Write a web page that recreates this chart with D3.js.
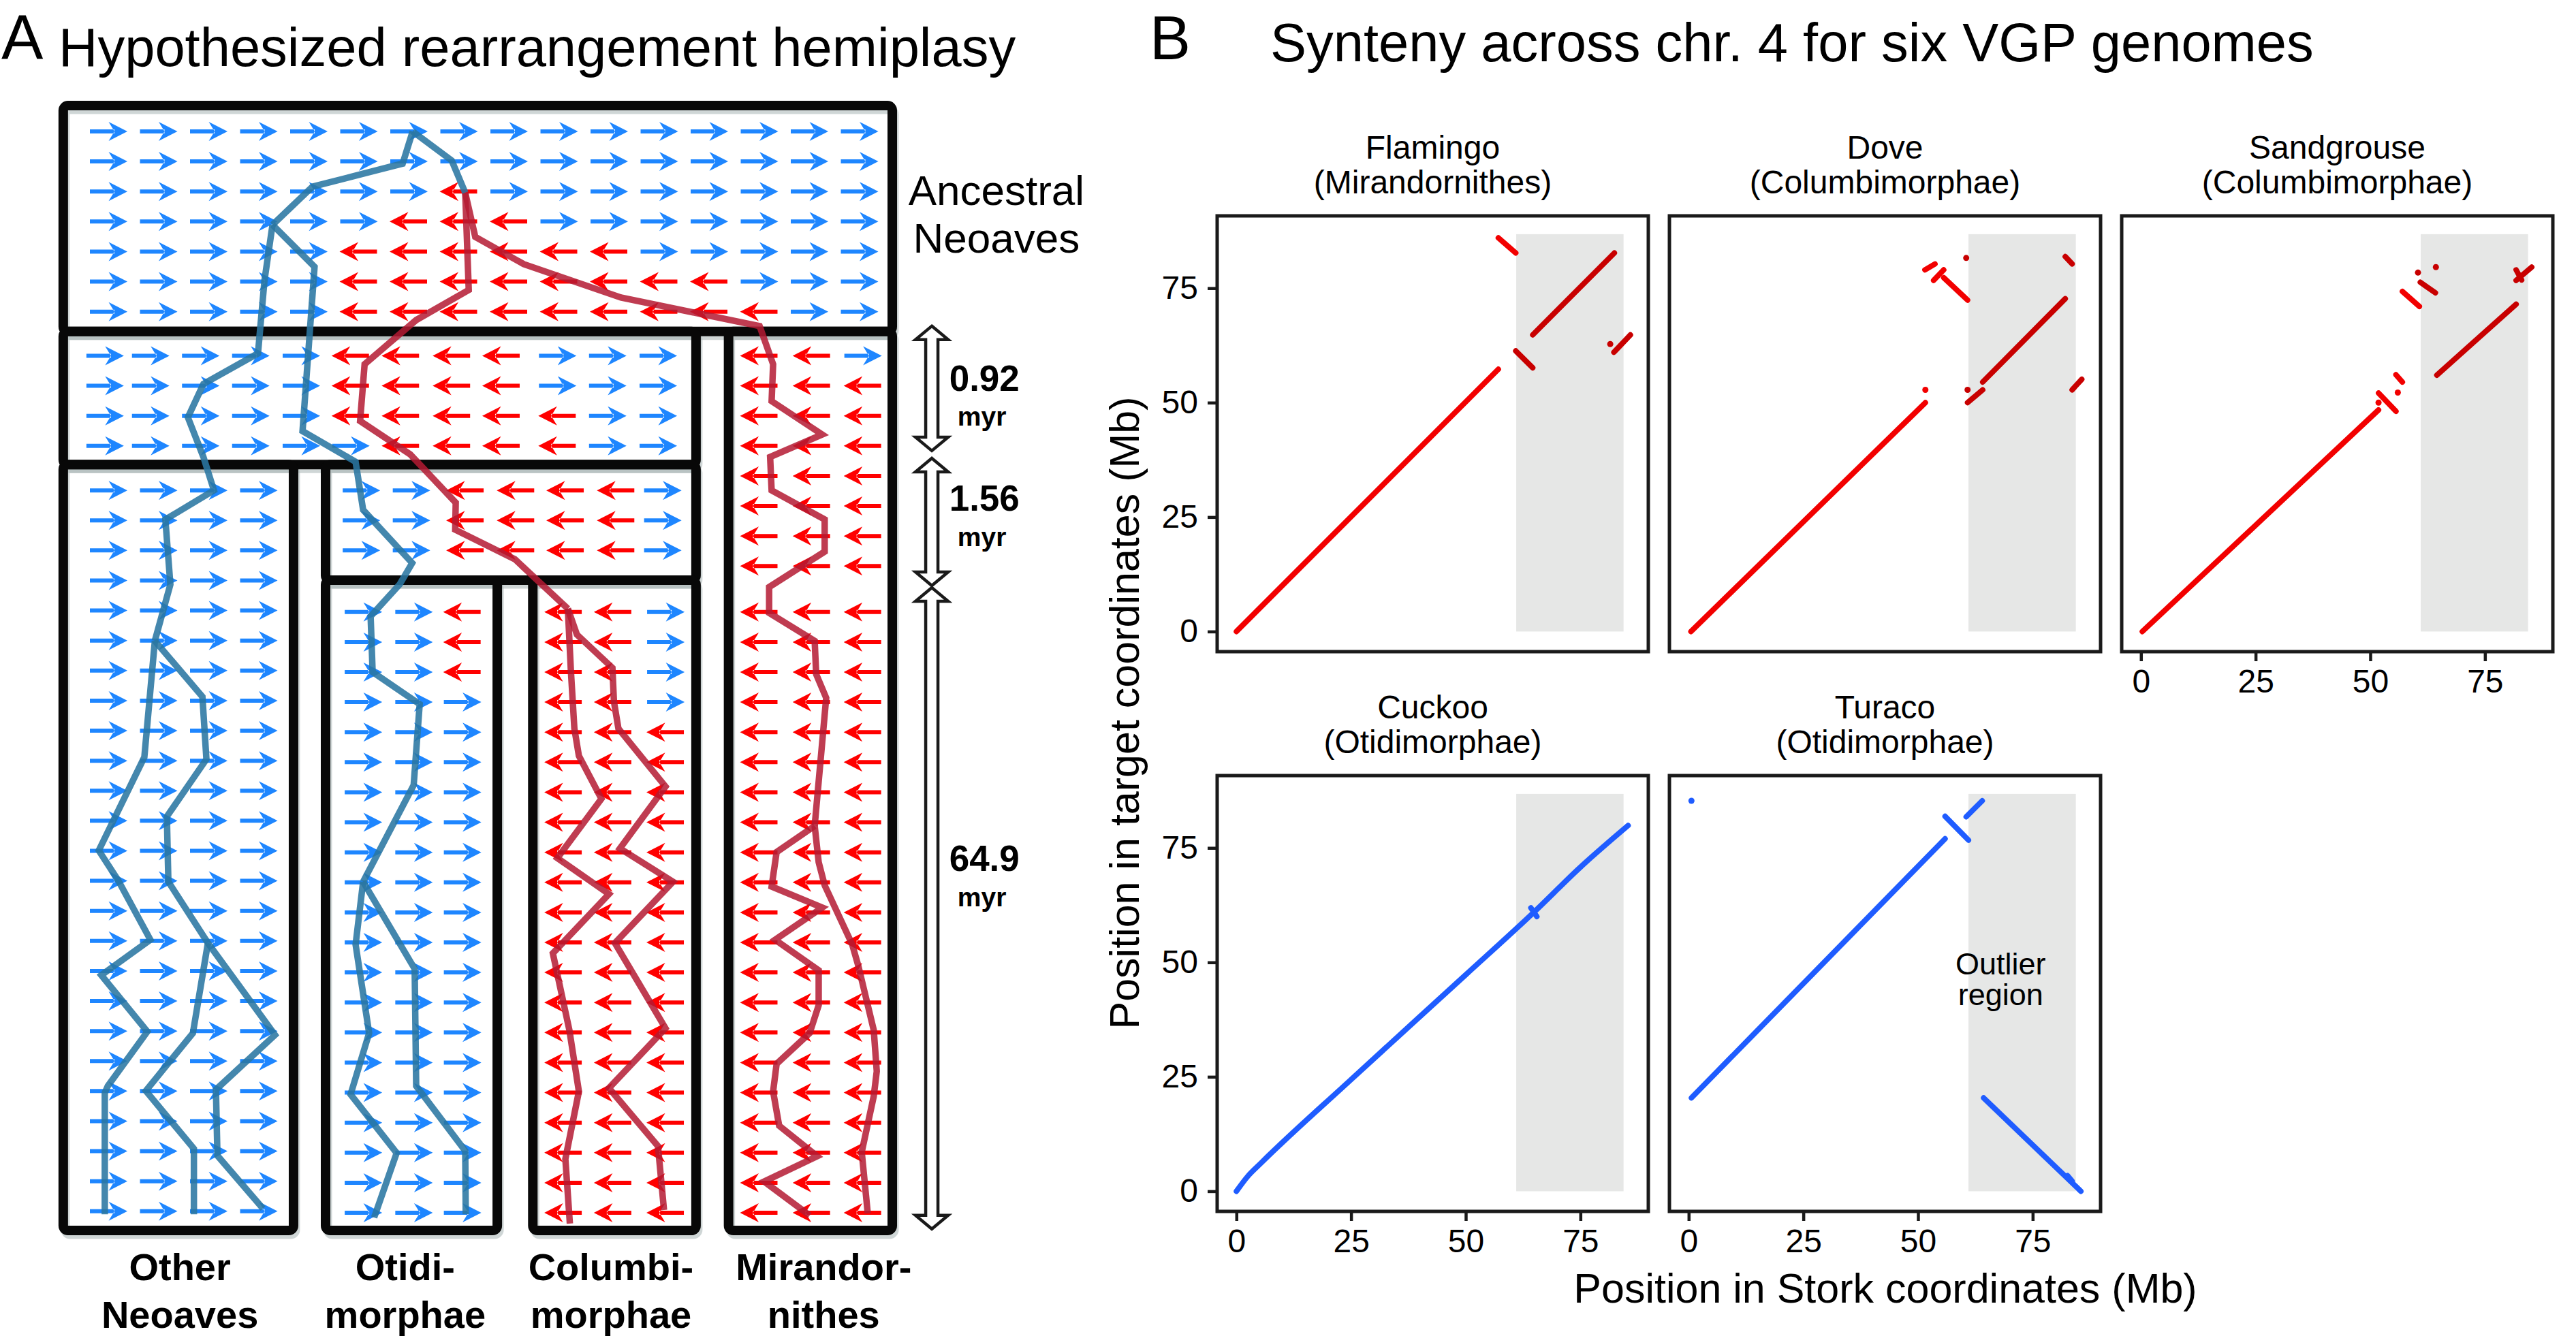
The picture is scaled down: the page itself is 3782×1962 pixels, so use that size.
<!DOCTYPE html>
<html><head><meta charset="utf-8">
<script src="https://cdn.jsdelivr.net/npm/d3@7"></script>
<style>
html,body{margin:0;padding:0;background:#fff;}
svg{display:block;}
text{font-family:"Liberation Sans", Arial, Helvetica, sans-serif;fill:#000;}
</style></head><body>
<svg id="chart" width="3782" height="1962"></svg>
<script>
// ===================== PANEL A DATA =====================
// R = ancestral orientation (blue, right), L = rearranged (red, left)
const ancestralPattern = [
  "RRRRRRRRRRRRRRRR",
  "RRRRRRRRRRRRRRRR",
  "RRRRRRRLRRRRRRRR",
  "RRRRRRLLLRRRRRRR",
  "RRRRRLLLLLLRRRRR",
  "RRRRRLLLLLLLLRRR",
  "RRRRRLLLLLLLLLRR"];
const ancestralCols = [0,1,2,3,4,5,6,7,8,9,10,11,12,13,14,15];
const ancestralRows = [0,1,2,3,4,5,6];

const stemPattern = ["RRRRRLLLLRRR","RRRRRLLLLRRR","RRRRRLLLLLRR","RRRRRRLLLLRR"];
const stemCols = [-0.07,0.84,1.84,2.84,3.85,4.84,5.84,6.86,7.85,8.97,9.97,10.98];
const stemRows = [7.47,8.47,9.47,10.47];

const otherPattern = Array(25).fill("RRRR");
const otherCols = [0,1,2,3];
const otherRows = [11.95,12.95,13.95,14.95,15.95,16.95,17.95,18.95,19.95,20.95,21.95,22.95,23.95,24.95,25.95,26.95,27.95,28.95,29.95,30.95,31.95,32.95,33.95,34.95,35.95];

const otiColPattern = ["RRLLLLR","RRLLLLR","RRLLLLR"];
const otiColCols = [5.05,6.05,7.13,8.14,9.13,10.14,11.07];
const otiColRows = [11.95,12.95,13.95];

const cladeRows = [16,17,18,19,20,21,22,23,24,25,26,27,28,29,30,31,32,33,34,35,36];
const otidPattern = ["RRL","RRL","RRL"].concat(Array(18).fill("RRR"));
const otidCols = [5.09,6.10,7.07];
const columbiPattern = ["LLR","LLR","LLR","LLR"].concat(Array(17).fill("LLL"));
const columbiCols = [9.09,10.08,11.13];

const miranPattern = ["LLR"].concat(Array(28).fill("LLL"));
const miranCols = [13.0,14.05,15.07];
const miranRows = [7.47,8.47,9.47,10.47,11.47,12.47,13.47,14.47,16,17,18,19,20,21,22,23,24,25,26,27,28,29,30,31,32,33,34,35,36];

// gene-tree lineages [column, row]
const geneBlueStem  = [[6.08,0],[5.88,1.07],[4.08,1.84],[3.28,3.11]];
const geneBlueToRed = [[6.08,0],[6.86,0.97],[7.13,2.04]];
const geneOther   = [[3.28,3.11],[3.12,4.96],[2.99,7.39],[1.90,8.41],[1.59,9.52],[1.90,10.84],[2.11,11.95],[1.14,12.92],[1.24,15.08],[0.93,16.96]];
const geneOtherA  = [[0.93,16.96],[0.72,20.83],[-0.19,23.94],[0.20,24.94],[0.84,26.91],[-0.14,28.09],[0.78,29.97],[-0.01,31.78],[-0.07,32.01],[-0.07,36.05]];
const geneOtherB  = [[0.93,16.96],[1.88,18.82],[1.96,20.90],[1.17,22.81],[1.20,24.98],[1.99,27.02]];
const geneOtherB1 = [[1.99,27.02],[1.69,30.02],[0.75,31.94],[1.71,33.87],[1.71,36.05]];
const geneOtherB2 = [[1.99,27.02],[3.33,30.08],[2.15,31.90],[2.18,34.10],[3.09,35.86]];
const geneOtid    = [[3.28,3.11],[4.12,4.51],[3.88,9.98],[4.94,11.0],[5.09,12.60],[6.07,14.37],[5.82,15.08],[5.24,16.14],[5.28,18.0],[6.22,19.07],[6.10,21.76],[5.09,24.98]];
const geneOtidD   = [[5.09,24.98],[4.94,27.07],[5.21,30.02],[4.84,32.06],[5.76,34.01],[5.31,36.16]];
const geneOtidE   = [[5.09,24.98],[6.12,27.88],[6.15,31.78],[7.13,33.94],[7.14,36.05]];
const geneColumbi  = [[7.13,2.04],[7.20,5.28],[6.15,6.28],[5.12,7.75],[5.03,9.64],[6.03,10.75],[6.94,12.36],[6.93,13.26],[8.12,14.24],[9.18,15.89]];
const geneColumbiA = [[9.18,15.89],[9.24,17.95],[9.31,19.88],[9.40,20.79],[9.85,22.22],[8.97,24.19],[10.0,25.39],[8.88,27.36],[9.21,29.92],[9.40,31.96],[9.13,34.21],[9.22,36.36]];
const geneColumbiB = [[9.18,15.89],[9.36,16.75],[10.07,17.86],[10.10,18.98],[10.19,19.88],[11.13,21.81],[10.22,23.87],[11.28,24.98],[10.12,27.02],[11.13,29.86],[10.0,31.85],[10.98,33.78],[11.10,35.91]];
const geneMiran  = [[7.13,2.04],[7.33,3.51],[8.30,4.42],[10.24,5.53],[13.01,6.48],[13.28,7.75],[13.25,8.98],[14.26,10.09],[13.22,10.84],[13.25,11.95],[14.31,12.92],[14.31,13.99],[13.20,15.17],[13.20,16.03],[14.11,16.96],[14.14,18.07],[14.34,18.86],[14.11,23.12]];
const geneMiranA = [[14.11,23.12],[13.35,23.99],[13.25,25.14],[14.26,25.84],[13.32,26.91],[14.19,27.93],[14.19,29.09],[14.01,30.02],[13.35,31.04],[13.28,31.96],[13.40,33.10],[14.16,34.12],[13.10,34.96],[14.01,36.09]];
const geneMiranB = [[14.11,23.12],[14.19,24.33],[14.31,25.10],[14.86,27.07],[14.98,27.77],[15.29,29.92],[15.35,31.29],[15.29,32.12],[15.05,33.98],[15.17,36.02]];

// species-tree boxes [col0, col1, row0, row1]
const speciesBoxes = [
  [-0.9, 15.66, -0.86, 6.66],
  [-0.9, 11.74, 6.66, 11.09],
  [-0.9, 3.70, 11.09, 36.59],
  [4.34, 11.74, 11.09, 14.94],
  [4.34, 7.77, 14.94, 36.59],
  [8.48, 11.74, 14.94, 36.59],
  [12.39, 15.66, 6.66, 36.59]];

const branchTimes = ["0.92","1.56","64.9"];
const branchIntervals = [[6.48,10.63],[10.88,15.12],[15.19,36.54]];
const cladeLabels = [["Other","Neoaves"],["Otidi-","morphae"],["Columbi-","morphae"],["Mirandor-","nithes"]];
const cladeLabelCols = [1.43, 5.93, 10.04, 14.29];

// ===================== PANEL B DATA =====================
const facetNames  = ["Flamingo","Dove","Sandgrouse","Cuckoo","Turaco"];
const facetClades = ["(Mirandornithes)","(Columbimorphae)","(Columbimorphae)","(Otidimorphae)","(Otidimorphae)"];
const facetState  = ["rearranged","rearranged","rearranged","ancestral","ancestral"];
const xTickValues = [0,25,50,75];
const yTickValues = [0,25,50,75];
const outlierRegionX = [61.0, 84.4];
const outlierRegionY = [0, 86.8];

const flamingoRuns = [
  [[0,0],[57.1,57.3]], [[57.1,86.0],[60.9,82.7]], [[60.9,61.3],[64.6,57.6]],
  [[64.6,64.8],[82.4,82.7]], [[82.3,61.0],[85.9,64.8]], [[81.5,62.8]]];
const doveRuns = [
  [[0.5,0],[51.6,50.0]], [[51.6,52.8]], [[51.5,79.0],[53.7,80.3]], [[53.4,76.7],[55.6,79.0]],
  [[55.6,77.3],[60.8,72.4]], [[60.5,81.6]], [[60.8,52.8]], [[60.8,50.0],[64.1,52.8]],
  [[64.1,54.5],[82.1,72.7]], [[82.1,81.9],[83.6,80.3]], [[83.6,52.8],[85.7,55.1]]];
const sandgrouseRuns = [
  [[0.3,0],[51.8,48.4]], [[51.8,52.1],[55.6,48.1]], [[51.8,50.0]], [[56.0,52.2]],
  [[55.6,56.1],[57.0,54.5]], [[57.0,74.3],[60.7,71.0]], [[60.4,78.4]], [[60.9,76.3],[64.2,74.0]],
  [[64.3,79.6]], [[64.5,56.0],[81.8,71.5]], [[81.8,76.7],[85.2,79.6]], [[81.8,79.0],[83.0,76.8]]];
const cuckooRuns = [
  [[0,0],[2.5,3.3],[5.4,6.2],[25,24.4],[50,47.3],[64.9,61],[75,70.8],[85.4,79.9]], [[64.2,61.9],[65.5,60.0]]];
const turacoRuns = [
  [[0.6,85.3]], [[0.6,20.4],[55.9,77.0]], [[55.9,81.9],[61.0,76.7]], [[60.5,81.8],[64.0,85.3]],
  [[64.3,20.4],[85.5,0]], [[82.6,3.4],[83.6,2.2]]];
const facetRuns = [flamingoRuns, doveRuns, sandgrouseRuns, cuckooRuns, turacoRuns];

// ===================== DRAW =====================
const svg = d3.select("#chart");
const FONT = '"Liberation Sans", Arial, Helvetica, sans-serif';

// ---------- Panel A ----------
const xA = d3.scaleLinear().domain([0, 15]).range([159, 1261.5]);
const yA = d3.scaleLinear().domain([0, 36]).range([193, 1781]);
const gA = svg.append("g");

svg.append("text").attr("x", 2).attr("y", 87).attr("font-size", 92).text("A");
svg.append("text").attr("x", 86).attr("y", 97).attr("font-size", 79.5).text("Hypothesized rearrangement hemiplasy");

// box shadows + boxes
gA.append("g").selectAll("rect").data(speciesBoxes).join("rect")
  .attr("x", d => xA(d[0])).attr("y", d => yA(d[2]))
  .attr("width", d => xA(d[1]) - xA(d[0])).attr("height", d => yA(d[3]) - yA(d[2]))
  .attr("rx", 7).attr("fill", "none").attr("stroke", "#a7b4b4").attr("stroke-opacity", 0.55)
  .attr("stroke-width", 13).attr("transform", "translate(3,6)");
gA.append("g").selectAll("rect").data(speciesBoxes).join("rect")
  .attr("x", d => xA(d[0])).attr("y", d => yA(d[2]))
  .attr("width", d => xA(d[1]) - xA(d[0])).attr("height", d => yA(d[3]) - yA(d[2]))
  .attr("rx", 7).attr("fill", "none").attr("stroke", "#080808").attr("stroke-width", 14);

// arrows
const arrowGroups = [
  {pattern: ancestralPattern, cols: ancestralCols, rows: ancestralRows},
  {pattern: stemPattern, cols: stemCols, rows: stemRows},
  {pattern: otherPattern, cols: otherCols, rows: otherRows},
  {pattern: otiColPattern, cols: otiColCols, rows: otiColRows},
  {pattern: otidPattern, cols: otidCols, rows: cladeRows},
  {pattern: columbiPattern, cols: columbiCols, rows: cladeRows},
  {pattern: miranPattern, cols: miranCols, rows: miranRows}];
const cells = [];
arrowGroups.forEach(g => g.pattern.forEach((str, ri) => str.split("").forEach((ch, ci) => {
  cells.push({x: xA(g.cols[ci]), y: yA(g.rows[ri]), dir: ch});
})));
const rightArrow = "M-27,-3H9V3H-27Z M28,0L0.5,-14L9,0L0.5,14Z";
const leftArrow  = "M27,-3H-9V3H27Z M-28,0L-0.5,-14L-9,0L-0.5,14Z";
gA.append("g").selectAll("path").data(cells).join("path")
  .attr("d", d => d.dir === "R" ? rightArrow : leftArrow)
  .attr("transform", d => `translate(${d.x},${d.y})`)
  .attr("fill", d => d.dir === "R" ? "#1e86ff" : "#ff0000");

// gene lineages
const lineGen = d3.line().x(d => xA(d[0])).y(d => yA(d[1]));
const blueLines = [geneBlueStem, geneBlueToRed, geneOther, geneOtherA, geneOtherB, geneOtherB1, geneOtherB2, geneOtid, geneOtidD, geneOtidE];
const redLines = [geneColumbi, geneColumbiA, geneColumbiB, geneMiran, geneMiranA, geneMiranB];
gA.append("g").selectAll("path").data(redLines).join("path")
  .attr("d", lineGen).attr("fill", "none").attr("stroke", "#b41a33").attr("stroke-opacity", 0.85)
  .attr("stroke-width", 9.5).attr("stroke-linejoin", "miter").attr("stroke-miterlimit", 3);
gA.append("g").selectAll("path").data(blueLines).join("path")
  .attr("d", lineGen).attr("fill", "none").attr("stroke", "#2a76a2").attr("stroke-opacity", 0.88)
  .attr("stroke-width", 9.5).attr("stroke-linejoin", "miter").attr("stroke-miterlimit", 3);

// time arrows
const taX = xA(16.45);
function dblArrow(cx, y1, y2) {
  const hw = 24, h = 20, sw = 9;
  return `M${cx},${y1}L${cx+hw},${y1+h}L${cx+sw},${y1+h}L${cx+sw},${y2-h}L${cx+hw},${y2-h}L${cx},${y2}` +
         `L${cx-hw},${y2-h}L${cx-sw},${y2-h}L${cx-sw},${y1+h}L${cx-hw},${y1+h}Z`;
}
gA.append("g").selectAll("path").data(branchIntervals).join("path")
  .attr("d", d => dblArrow(taX, yA(d[0]), yA(d[1])))
  .attr("fill", "#fff").attr("stroke", "#1a1a1a").attr("stroke-width", 4.5);

const timeLabelRows = [[8.64, 9.79],[12.63, 13.81],[24.62, 25.8]];
branchTimes.forEach((t, i) => {
  gA.append("text").attr("x", xA(17.5)).attr("y", yA(timeLabelRows[i][0]))
    .attr("text-anchor", "middle").attr("font-weight", "bold").attr("font-size", 53).text(t);
  gA.append("text").attr("x", xA(17.45)).attr("y", yA(timeLabelRows[i][1]))
    .attr("text-anchor", "middle").attr("font-weight", "bold").attr("font-size", 39).text("myr");
});

gA.append("text").attr("x", xA(17.74)).attr("y", yA(2.45)).attr("text-anchor", "middle")
  .attr("font-size", 62).text("Ancestral");
gA.append("text").attr("x", xA(17.74)).attr("y", yA(4.04)).attr("text-anchor", "middle")
  .attr("font-size", 62).text("Neoaves");

cladeLabels.forEach((lab, i) => {
  gA.append("text").attr("x", xA(cladeLabelCols[i])).attr("y", 1880).attr("text-anchor", "middle")
    .attr("font-weight", "bold").attr("font-size", 56).text(lab[0]);
  gA.append("text").attr("x", xA(cladeLabelCols[i])).attr("y", 1950).attr("text-anchor", "middle")
    .attr("font-weight", "bold").attr("font-size", 56).text(lab[1]);
});

// ---------- Panel B ----------
svg.append("text").attr("x", 1688).attr("y", 87).attr("font-size", 90).text("B");
svg.append("text").attr("x", 1865).attr("y", 90).attr("font-size", 79.5).text("Synteny across chr. 4 for six VGP genomes");

const panelLefts = [1787, 2451, 3115], panelTops = [317, 1139];
const PW = 633, PH = 640;
const gB = svg.append("g");

facetNames.forEach((name, i) => {
  const c = i % 3, r = Math.floor(i / 3);
  const left = panelLefts[c], top = panelTops[r];
  const x = d3.scaleLinear().domain([-4.2, 89.8]).range([left, left + PW]);
  const y = d3.scaleLinear().domain([-4.4, 90.8]).range([top + PH, top]);
  const g = gB.append("g");

  g.append("rect").attr("x", x(outlierRegionX[0])).attr("y", y(outlierRegionY[1]))
    .attr("width", x(outlierRegionX[1]) - x(outlierRegionX[0]))
    .attr("height", y(outlierRegionY[0]) - y(outlierRegionY[1])).attr("fill", "#e6e7e6");

  const runs = facetRuns[i];
  const colorOf = run => facetState[i] === "ancestral" ? "#1f5cff" : (run[0][0] >= 60.3 ? "#c80000" : "#f20000");
  const lg = d3.line().x(d => x(d[0])).y(d => y(d[1])).curve(d3.curveMonotoneX);
  g.append("g").selectAll("path").data(runs.filter(rn => rn.length > 1)).join("path")
    .attr("d", d => (d[0][0] <= d[d.length-1][0] ? lg(d) : d3.line().x(p => x(p[0])).y(p => y(p[1]))(d)))
    .attr("fill", "none").attr("stroke", colorOf).attr("stroke-width", 8)
    .attr("stroke-linecap", "round").attr("stroke-linejoin", "round");
  g.append("g").selectAll("circle").data(runs.filter(rn => rn.length === 1)).join("circle")
    .attr("cx", d => x(d[0][0])).attr("cy", d => y(d[0][1])).attr("r", 4.5).attr("fill", colorOf);

  if (name === "Turaco") {
    g.append("text").attr("x", x(68)).attr("y", y(47.3)).attr("text-anchor", "middle").attr("font-size", 45).text("Outlier");
    g.append("text").attr("x", x(68)).attr("y", y(40.6)).attr("text-anchor", "middle").attr("font-size", 45).text("region");
  }

  g.append("rect").attr("x", left).attr("y", top).attr("width", PW).attr("height", PH)
    .attr("fill", "none").attr("stroke", "#1a1a1a").attr("stroke-width", 5);

  g.append("text").attr("x", left + PW / 2).attr("y", top - 84).attr("text-anchor", "middle").attr("font-size", 48).text(name);
  g.append("text").attr("x", left + PW / 2).attr("y", top - 33).attr("text-anchor", "middle").attr("font-size", 48).text(facetClades[i]);

  if (c === 0) {
    const ax = g.append("g").attr("transform", `translate(${left},0)`)
      .call(d3.axisLeft(y).tickValues(yTickValues).tickSize(14).tickPadding(14));
    ax.select(".domain").remove();
    ax.selectAll("line").attr("stroke", "#1a1a1a").attr("stroke-width", 4.5);
    ax.selectAll("text").attr("font-size", 48).attr("font-family", FONT).attr("fill", "#1a1a1a");
  }
  if (r === 1 || c === 2) {
    const ax = g.append("g").attr("transform", `translate(0,${top + PH})`)
      .call(d3.axisBottom(x).tickValues(xTickValues).tickSize(14).tickPadding(12));
    ax.select(".domain").remove();
    ax.selectAll("line").attr("stroke", "#1a1a1a").attr("stroke-width", 4.5);
    ax.selectAll("text").attr("font-size", 48).attr("font-family", FONT).attr("fill", "#1a1a1a");
  }
});

svg.append("text").attr("x", 2768).attr("y", 1913).attr("text-anchor", "middle").attr("font-size", 61)
  .text("Position in Stork coordinates (Mb)");
svg.append("text").attr("transform", "translate(1672,1047) rotate(-90)").attr("text-anchor", "middle")
  .attr("font-size", 61).text("Position in target coordinates (Mb)");
</script>
</body></html>
